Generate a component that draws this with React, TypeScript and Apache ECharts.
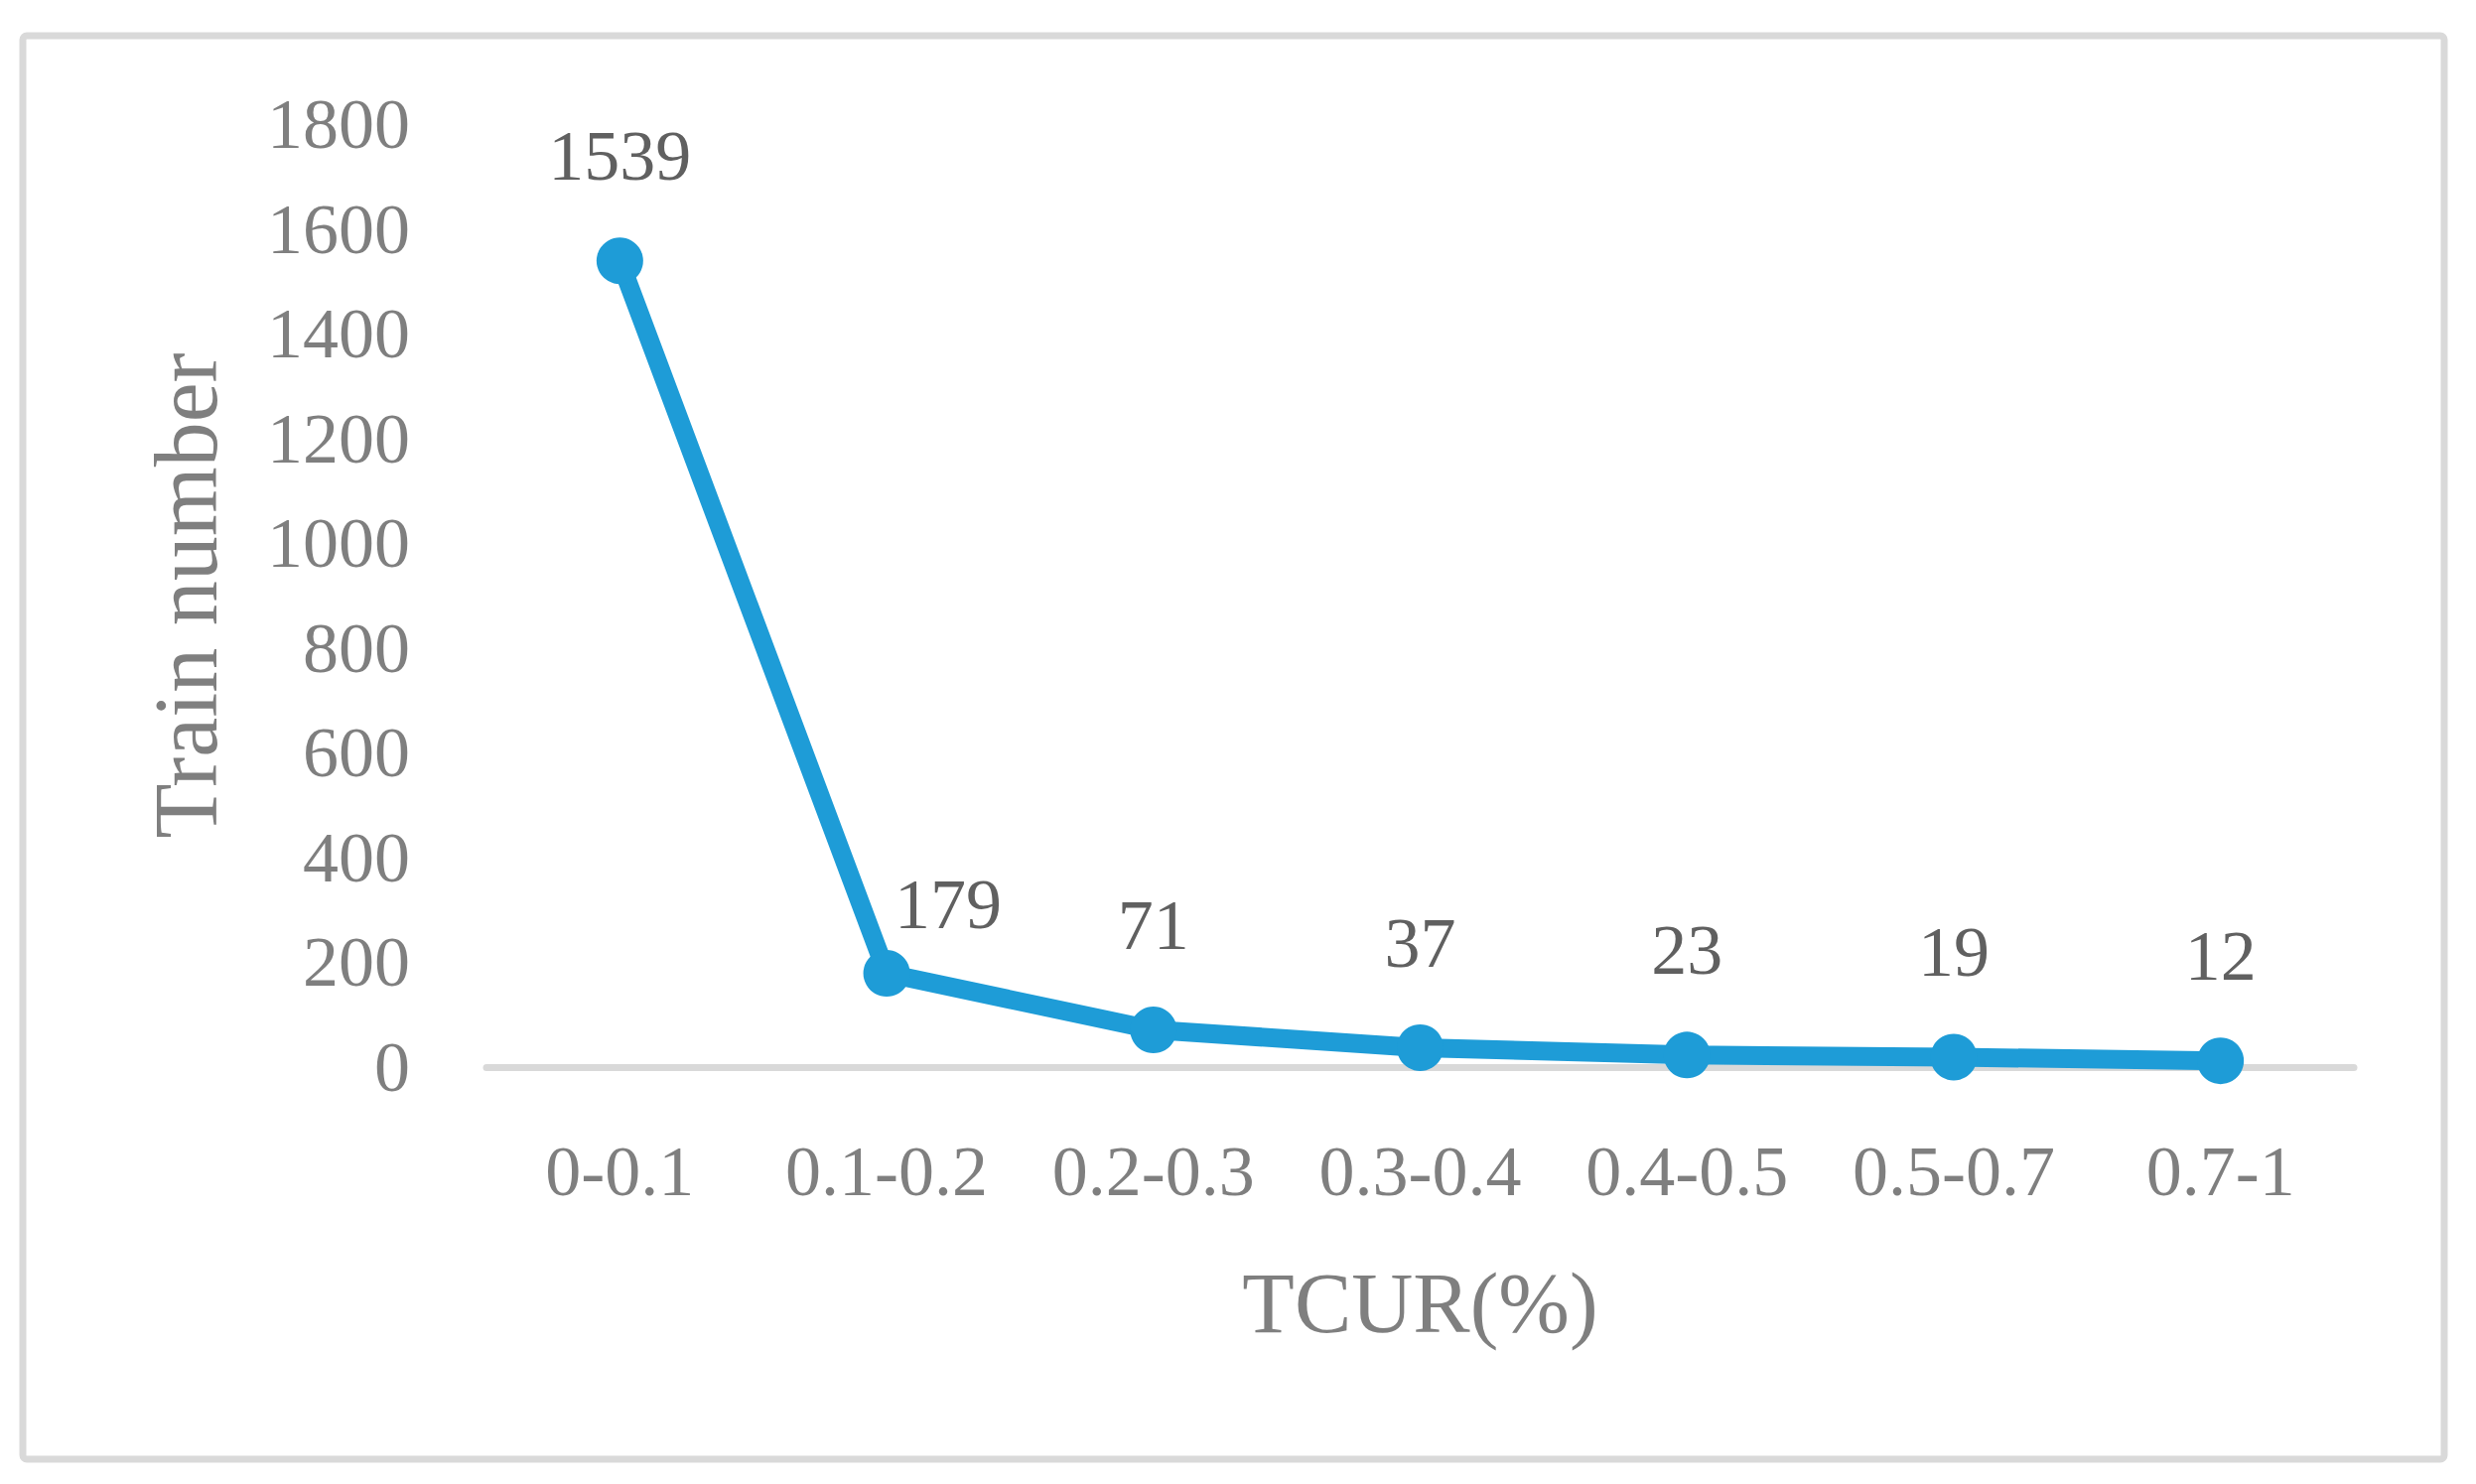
import React, { useEffect, useRef } from "react";
import * as echarts from "echarts";

const categories = ["0-0.1", "0.1-0.2", "0.2-0.3", "0.3-0.4", "0.4-0.5", "0.5-0.7", "0.7-1"];
const trainNumbers = [1539, 179, 71, 37, 23, 19, 12];
const yTicks = { min: 0, max: 1800, interval: 200 };
const xTitle = "TCUR(%)";
const yTitle = "Train number";

const FONT = "'Liberation Serif', 'Times New Roman', serif";

export default function App() {
  const ref = useRef<HTMLDivElement>(null);
  useEffect(() => {
    if (!ref.current) return;
    const chart = echarts.init(ref.current, undefined, { renderer: "svg" });
    const data = trainNumbers.map((v, i) =>
      i === 1 ? { value: v, label: { offset: [62, 36] } } : { value: v }
    );
    chart.setOption({
      animation: false,
      backgroundColor: "#ffffff",
      textStyle: { fontFamily: FONT },
      graphic: [
        {
          type: "rect",
          shape: { x: 23, y: 36, width: 2439, height: 1434, r: 4 },
          style: { fill: "none", stroke: "#d9d9d9", lineWidth: 7 },
          silent: true,
        },
      ],
      grid: { left: 490, right: 123, top: 125, bottom: 420, containLabel: false },
      xAxis: {
        type: "category",
        data: categories,
        boundaryGap: true,
        axisLine: { show: true, lineStyle: { color: "#d9d9d9", width: 7 } },
        axisTick: { show: false },
        axisLabel: { color: "#7f7f7f", fontSize: 72, fontFamily: FONT, margin: 69, interval: 0 },
        name: xTitle,
        nameLocation: "middle",
        nameGap: 195,
        nameTextStyle: { color: "#7f7f7f", fontSize: 86, fontFamily: FONT },
        splitLine: { show: false },
      },
      yAxis: {
        type: "value",
        min: yTicks.min,
        max: yTicks.max,
        interval: yTicks.interval,
        axisLine: { show: false },
        axisTick: { show: false },
        splitLine: { show: false },
        axisLabel: {
          color: "#7f7f7f",
          fontSize: 72,
          fontFamily: FONT,
          margin: 77,
          formatter: (v: number) => String(v),
        },
        name: yTitle,
        nameLocation: "middle",
        nameGap: 258,
        nameTextStyle: { color: "#7f7f7f", fontSize: 90, fontFamily: FONT },
      },
      series: [
        {
          type: "line",
          data,
          symbol: "circle",
          symbolSize: 47,
          lineStyle: { color: "#1e9cd7", width: 19 },
          itemStyle: { color: "#1e9cd7" },
          label: {
            show: true,
            position: "top",
            distance: 46,
            color: "#606060",
            fontSize: 72,
            fontFamily: FONT,
          },
        },
      ],
    });
    return () => chart.dispose();
  }, []);
  return (
    <div
      ref={ref}
      style={{ position: "fixed", left: 0, top: 0, width: 2494, height: 1495, background: "#fff" }}
    />
  );
}
